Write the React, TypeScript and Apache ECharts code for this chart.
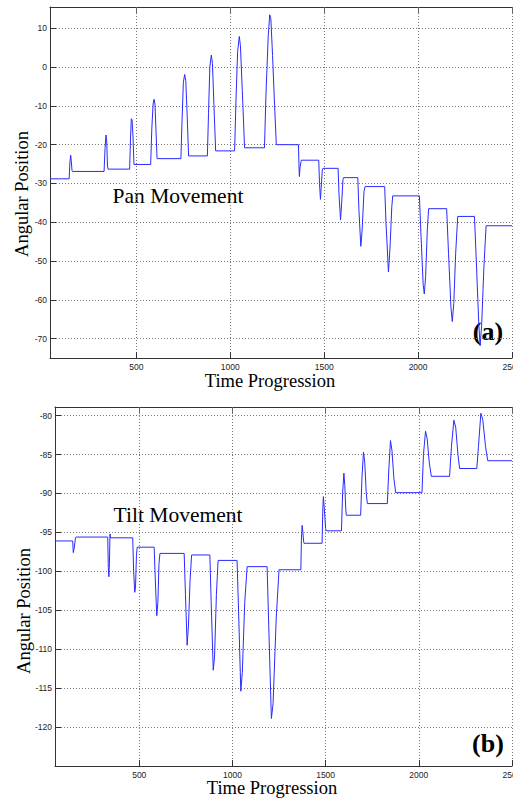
import React, { useEffect, useRef } from "react";
import * as echarts from "echarts";

// Pan movement (a): [time, angle]
const panPoints: number[][] = [
  [40, -28.8], [142, -28.8], [146, -24.5], [150, -22.7], [153, -24], [157, -26.6], [160, -26.9],
  [328, -26.9], [333, -21], [338, -17.5], [342, -19], [346, -25.5], [349, -26.3],
  [464, -26.3], [469, -18], [473, -13.3], [477, -13.6], [482, -18], [487, -25.1],
  [576, -25.1], [582, -16], [589, -9.5], [594, -8.3], [599, -9.5], [604, -16], [610, -23.6],
  [737, -23.6], [743, -14], [750, -4], [757, -1.9], [763, -3.5], [770, -12], [778, -22.9],
  [878, -22.9], [884, -12], [891, 0], [899, 3.1], [905, 1], [913, -10], [922, -21.6],
  [1023, -21.6], [1030, -9], [1039, 4], [1048, 7.9], [1054, 5.5], [1064, -6], [1076, -20.8],
  [1182, -20.8], [1190, -7], [1202, 8], [1210, 13.5], [1216, 12.5], [1225, 3], [1236, -10], [1245, -20],
  [1363, -20], [1366, -26], [1368, -28.2], [1371, -26], [1378, -24],
  [1471, -24], [1475, -30], [1480, -34.1], [1484, -31], [1490, -26.5], [1493, -26.1],
  [1574, -26.1], [1579, -33], [1587, -39.4], [1593, -35], [1600, -29], [1603, -28.5],
  [1679, -28.5], [1685, -37], [1695, -46.2], [1702, -42], [1712, -32], [1718, -30.8],
  [1822, -30.8], [1829, -40], [1842, -52.8], [1850, -47], [1860, -36], [1865, -33.2],
  [2007, -33.2], [2016, -44], [2027, -56], [2033, -58.5], [2040, -54], [2049, -42], [2056, -36.5],
  [2152, -36.5], [2162, -48], [2175, -62], [2182, -65.6], [2190, -61], [2200, -48], [2211, -38.5],
  [2300, -38.5], [2310, -50], [2323, -66], [2330, -71.8], [2338, -67], [2350, -52], [2362, -40.9],
  [2500, -40.9],
];

// Tilt movement (b): [time, angle]
const tiltPoints: number[][] = [
  [48, -96.1], [143, -96.1], [146, -97.6], [150, -97.2], [158, -95.7], [161, -95.6],
  [331, -95.6], [334, -99.5], [337, -100.7], [340, -99], [343, -95.2], [346, -95.7],
  [465, -95.7], [470, -100], [476, -102.7], [480, -102], [485, -98], [489, -96.9],
  [580, -96.9], [586, -101], [594, -105.7], [600, -104], [606, -99], [611, -97.7],
  [741, -97.7], [748, -103], [757, -109.5], [764, -107], [773, -101], [781, -97.9],
  [879, -97.9], [886, -104], [897, -112.7], [904, -111], [914, -103], [923, -98.6],
  [1025, -98.6], [1034, -106], [1045, -115.4], [1053, -113], [1066, -104], [1079, -99.4],
  [1186, -99.4], [1196, -108], [1209, -118.9], [1218, -117], [1235, -106], [1250, -99.8],
  [1367, -99.8], [1370, -96], [1374, -94.1], [1378, -95], [1382, -96.2], [1384, -96.4],
  [1481, -96.4], [1485, -92], [1488, -90.4], [1493, -92], [1500, -94.5], [1504, -94.8],
  [1585, -94.8], [1591, -90], [1598, -87.4], [1603, -89], [1608, -92], [1611, -92.8],
  [1688, -92.8], [1695, -88], [1703, -84.7], [1710, -86], [1718, -90], [1724, -91.3],
  [1831, -91.3], [1839, -87], [1848, -83.2], [1856, -84.5], [1866, -88], [1876, -89.9],
  [2017, -89.9], [2025, -85], [2036, -82], [2045, -83], [2056, -86], [2067, -87.8],
  [2165, -87.8], [2175, -84], [2188, -80.6], [2198, -81.5], [2210, -85], [2219, -86.8],
  [2311, -86.8], [2320, -84], [2333, -79.7], [2343, -80.5], [2358, -84], [2370, -85.8],
  [2500, -85.8],
];

const xTicks = [500, 1000, 1500, 2000, 2500];
const panYTicks = [-70, -60, -50, -40, -30, -20, -10, 0, 10];
const tiltYTicks = [-120, -115, -110, -105, -100, -95, -90, -85, -80];

const axisColor = "#333";
const gridLine = { show: true, lineStyle: { type: [1, 2], color: "#777", width: 1 } };
const labelStyle = {
  fontFamily: "Liberation Sans", fontSize: 8.5, color: "#222",
  formatter: (v: number) => String(v),
};
const serif = "Liberation Serif";

function xAxes(gridIndex: number, min: number) {
  return [
    {
      type: "value", gridIndex, min, max: 2500, position: "bottom",
      axisLine: { show: true, onZero: false, lineStyle: { color: axisColor, width: 1 } },
      axisTick: { show: true, inside: true, length: 6, customValues: xTicks, lineStyle: { color: axisColor } },
      axisLabel: { show: true, customValues: xTicks, margin: 4, hideOverlap: false, ...labelStyle },
      splitLine: gridLine,
    },
    {
      type: "value", gridIndex, min, max: 2500, position: "top",
      axisLine: { show: true, onZero: false, lineStyle: { color: axisColor, width: 1 } },
      axisTick: { show: true, inside: true, length: 6, customValues: xTicks, lineStyle: { color: "#666" } },
      axisLabel: { show: false },
      splitLine: { show: false },
    },
  ];
}

function yAxis(gridIndex: number, min: number, max: number, ticks: number[]) {
  return {
    type: "value", gridIndex, min, max, position: "left",
    axisLine: { show: true, onZero: false, lineStyle: { color: axisColor, width: 1 } },
    axisTick: { show: true, inside: true, length: 6, customValues: ticks, lineStyle: { color: axisColor } },
    axisLabel: { show: true, customValues: ticks, margin: 3, ...labelStyle },
    splitLine: gridLine,
  };
}

export default function App() {
  const ref = useRef<HTMLDivElement>(null);
  useEffect(() => {
    document.body.style.margin = "0";
    if (!ref.current) return;
    const chart = echarts.init(ref.current, undefined, { renderer: "svg" });
    chart.setOption({
      animation: false,
      backgroundColor: "#fff",
      grid: [
        { left: 50, top: 7, width: 462, height: 351, containLabel: false, outerBoundsMode: "none" },
        { left: 55, top: 407, width: 457, height: 359, containLabel: false, outerBoundsMode: "none" },
      ],
      xAxis: [...xAxes(0, 40), ...xAxes(1, 48)],
      yAxis: [yAxis(0, -75, 15.5, panYTicks), yAxis(1, -125, -78.9, tiltYTicks)],
      series: [
        {
          type: "line", xAxisIndex: 0, yAxisIndex: 0, data: panPoints, showSymbol: false,
          lineStyle: { color: "#2a2aff", width: 1 }, silent: true,
        },
        {
          type: "line", xAxisIndex: 2, yAxisIndex: 1, data: tiltPoints, showSymbol: false,
          lineStyle: { color: "#2a2aff", width: 1 }, silent: true,
        },
      ],
      graphic: [
        { type: "text", x: 22, y: 194, rotation: Math.PI / 2, style: { text: "Angular Position", fontFamily: serif, fontSize: 18.5, fill: "#000", align: "center", verticalAlign: "middle" } },
        { type: "text", x: 24, y: 611, rotation: Math.PI / 2, style: { text: "Angular Position", fontFamily: serif, fontSize: 18.5, fill: "#000", align: "center", verticalAlign: "middle" } },
        { type: "text", x: 270, y: 381, style: { text: "Time Progression", fontFamily: serif, fontSize: 18.5, fill: "#000", align: "center", verticalAlign: "middle" } },
        { type: "text", x: 272, y: 788, style: { text: "Time Progression", fontFamily: serif, fontSize: 18.5, fill: "#000", align: "center", verticalAlign: "middle" } },
        { type: "text", x: 178, y: 195.5, style: { text: "Pan Movement", fontFamily: serif, fontSize: 21.5, fill: "#000", align: "center", verticalAlign: "middle" } },
        { type: "text", x: 178, y: 515, style: { text: "Tilt Movement", fontFamily: serif, fontSize: 21.5, fill: "#000", align: "center", verticalAlign: "middle" } },
        { type: "text", x: 488, y: 331, style: { text: "(a)", fontFamily: serif, fontWeight: "bold", fontSize: 26, fill: "#000", align: "center", verticalAlign: "middle" } },
        { type: "text", x: 488, y: 743, style: { text: "(b)", fontFamily: serif, fontWeight: "bold", fontSize: 26, fill: "#000", align: "center", verticalAlign: "middle" } },
      ],
    });
    return () => chart.dispose();
  }, []);
  return <div ref={ref} style={{ width: 513, height: 799 }} />;
}
